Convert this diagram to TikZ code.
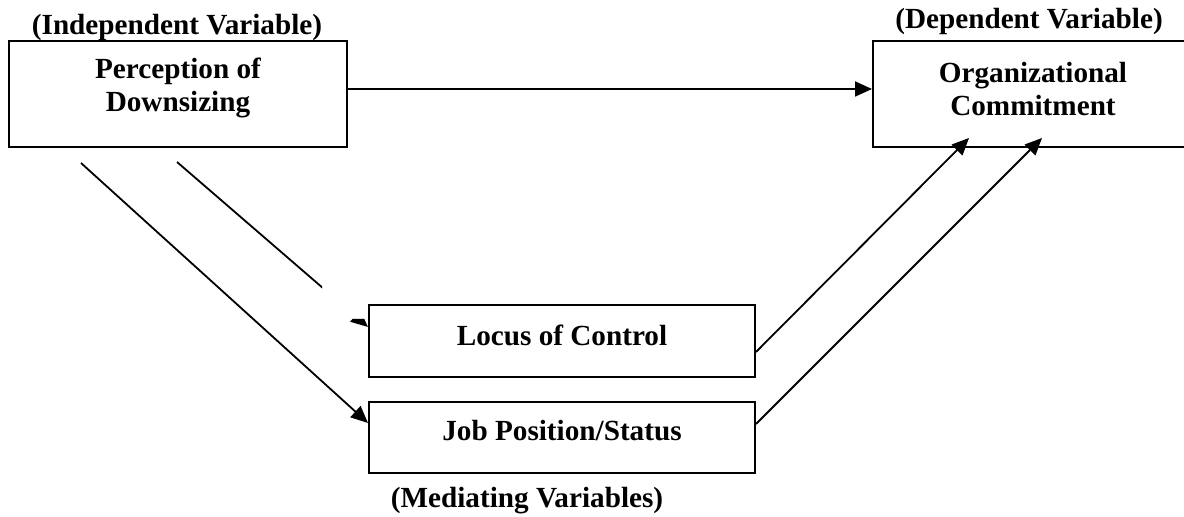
\documentclass[tikz,border=0pt]{standalone}
\usepackage{fontspec}
\setmainfont{Liberation Serif}
\usetikzlibrary{arrows.meta}
\begin{document}
\begin{tikzpicture}[x=0.5pt,y=-0.5pt,
  box/.style={draw,line width=1pt,rectangle,inner sep=0pt},
  txt/.style={font=\fontsize{14.6}{16.5}\selectfont\bfseries,align=center,inner sep=0pt},
  arr/.style={line width=0.9pt,-{Triangle[length=8.5pt,width=7.5pt]}}]
\useasboundingbox (0,0) rectangle (1184,517);
\clip (0,0) rectangle (1184,517);
% boxes
\node[box,minimum width=169pt,minimum height=53pt] (A) at (178,94) {};
\node[box,minimum width=163.5pt,minimum height=53pt] (O) at (1036.5,94) {};
\node[box,minimum width=193pt,minimum height=36pt] (L) at (562,341) {};
\node[box,minimum width=193pt,minimum height=35.5pt] (J) at (562,437.5) {};
% texts
\node[txt] (At) at (178,88) {Perception of\\Downsizing};
\node[txt] (Ot) at (1033,89) {Organizational\\Commitment};
\node[txt] (Lt) at (562,335) {Locus of Control};
\node[txt] (Jt) at (562,431) {Job Position/Status};
\node[txt] (iv) at (177,27) {(Independent Variable)};
\node[txt] (dv) at (1029,21) {(Dependent Variable)};
\node[txt] (mv) at (527,501) {(Mediating Variables)};
% coordinates
\coordinate (h) at (0,89);
\coordinate (s1) at (81,163);
\coordinate (s2) at (177,162);
\coordinate (e1) at (0,423);
\coordinate (e2) at (0,327);
\coordinate (r1) at (0,352);
\coordinate (r2) at (0,424);
\coordinate (t1) at (969,138);
\coordinate (t2) at (1042,138);
% connectors
\draw[arr] (A.east |- h) -- (O.west |- h);
\draw[arr] (s1) -- (J.west |- e1);
\begin{scope}[even odd rule]
  \clip (0,0) rectangle (1184,517) (322,286) rectangle (367,319);
  \draw[arr] (s2) -- (L.west |- e2);
\end{scope}
\draw[arr] (L.east |- r1) -- (t1);
\draw[arr] (J.east |- r2) -- (t2);
\end{tikzpicture}
\end{document}
